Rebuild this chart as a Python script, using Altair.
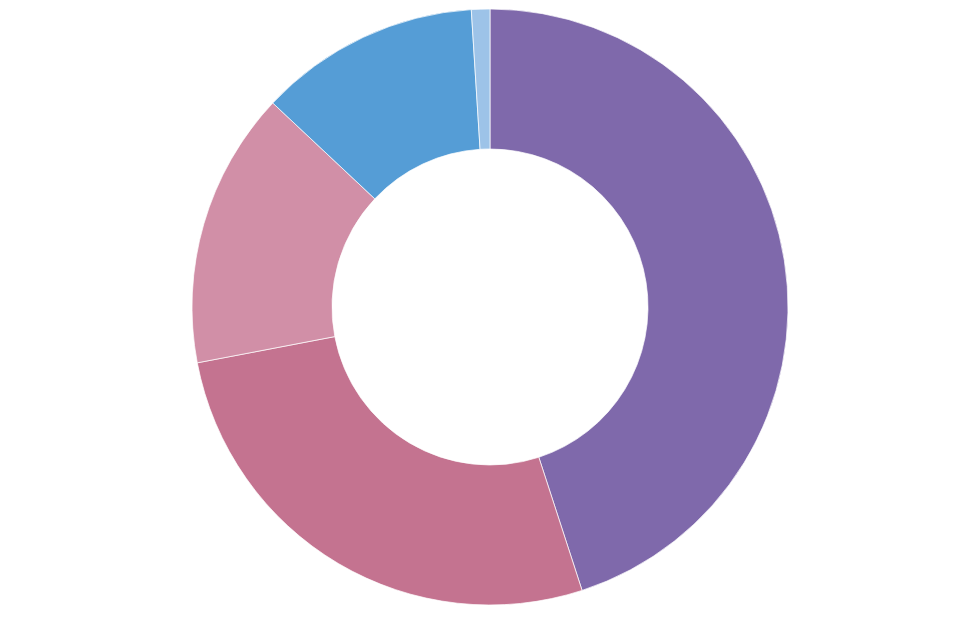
import altair as alt
import pandas as pd

categories = ["A", "B", "C", "D", "E"]
values = [45, 27, 15, 12, 1]
colors = ["#7f69ab", "#c47390", "#d18fa7", "#559dd6", "#9dc3e8"]

df = pd.DataFrame({"category": categories, "value": values, "order": list(range(len(values)))})

chart = alt.Chart(df).mark_arc(
    innerRadius=158, outerRadius=298, stroke="white", strokeWidth=0.7
).encode(
    theta=alt.Theta("value:Q", stack=True),
    color=alt.Color("category:N", scale=alt.Scale(domain=categories, range=colors), legend=None),
    order=alt.Order("order:Q"),
    x=alt.value(482),
    y=alt.value(299),
).properties(
    width=959, height=606, padding=0, autosize=alt.AutoSizeParams(type="none")
).configure_view(stroke=None)

chart.save("out.html", embed_options={"renderer": "svg", "actions": False})
